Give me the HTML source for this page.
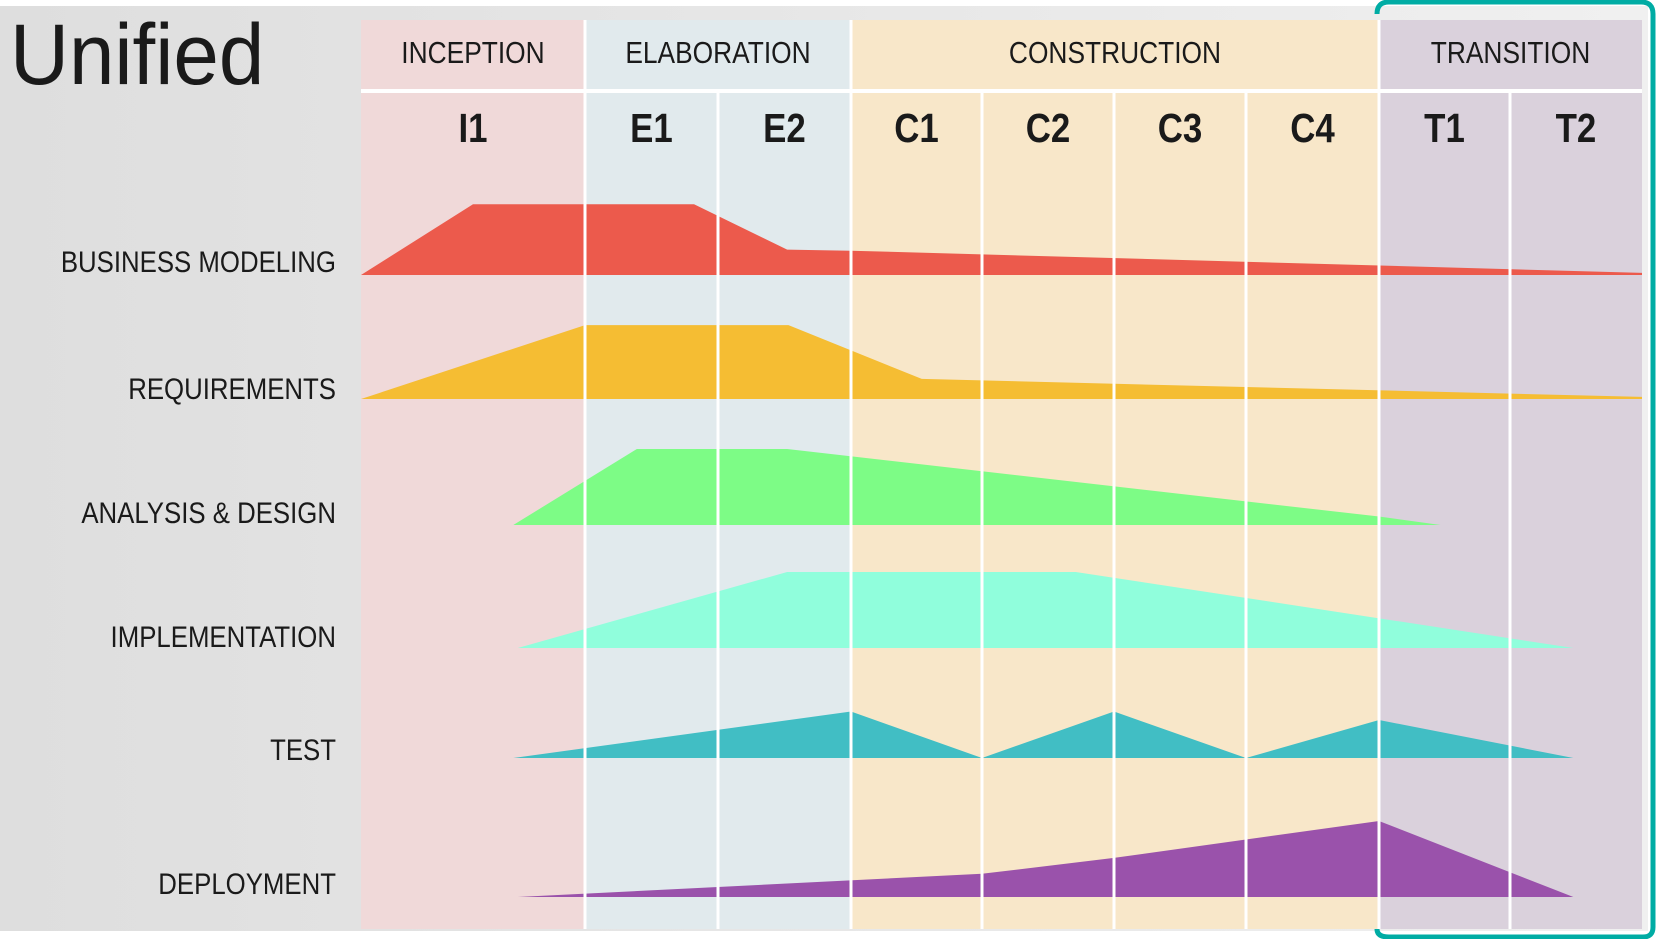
<!DOCTYPE html>
<html><head><meta charset="utf-8"><style>
html,body{margin:0;padding:0;width:1656px;height:939px;overflow:hidden;background:#fff}
svg{display:block}
text{font-family:"Liberation Sans",sans-serif;fill:#1a1a1a}
</style></head><body>
<svg id="chart" width="1656" height="939" viewBox="0 0 1656 939">
<defs>
<linearGradient id="bg" x1="0" y1="0" x2="1" y2="0"><stop offset="0" stop-color="#dedede"/><stop offset="1" stop-color="#f0f0f0"/></linearGradient>
</defs>
<rect x="0" y="0" width="1656" height="939" fill="#ffffff"/>
<rect x="0" y="6" width="1648" height="925" fill="url(#bg)"/>
<g id="panels"></g>
<g id="series"></g>
<g id="grid"></g>
<g id="labels"></g>
<text x="10" y="84" font-size="86" transform="translate(10,0) scale(0.95,1) translate(-10,0)">Unified</text>
<path d="M1377,14 Q1377,2 1389,2 L1641,2 Q1653,2 1653,14 L1653,927 Q1653,937 1643,937 L1389,937 Q1377,937 1377,929" fill="none" stroke="#00aca4" stroke-width="5"/>
</svg>
<script>
const iterations=["I1","E1","E2","C1","C2","C3","C4","T1","T2"];
const phases=["INCEPTION","ELABORATION","CONSTRUCTION","TRANSITION"];
const phaseSpan=[[0,1],[1,3],[3,7],[7,9]];
const phaseColors=["#f0d9d9","#e1eaed","#f8e7c9","#dad1dc"];
const workflows=["BUSINESS MODELING","REQUIREMENTS","ANALYSIS & DESIGN","IMPLEMENTATION","TEST","DEPLOYMENT"];
const colors=["#ec5a4c","#f5bd33","#7dfc86","#90fedc","#41bec4","#9a52ab"];
const bmX=[0,0.5,1.82,2.52,3,9];        const bmV=[0,67,67,24,23,2];
const reqX=[0,1,2.53,3.54,9];            const reqV=[0,70,70,19,2];
const adX=[0.68,1.39,2.52,7,7.47];       const adV=[0,72,72,8,0];
const implX=[0.7,2.52,4.71,8.48];        const implV=[0,72,72,0];
const testX=[0.68,3,4,5,6,7,8.48];       const testV=[0,44,0,44,0,36,0];
const depX=[0.7,4,5,7,8.48];             const depV=[0,22,37,72,0];
const seriesX=[bmX,reqX,adX,implX,testX,depX];
const seriesV=[bmV,reqV,adV,implV,testV,depV];
const NS="http://www.w3.org/2000/svg";
const bounds=[361,585,718,851,982,1114,1246,1379,1510,1642];
const baselines=[275,399,525,648,758,897];
const labelY=[261,388,512,636,749,883];
function xs(u){const i=Math.min(8,Math.max(0,Math.floor(u)));return bounds[i]+(u-i)*(bounds[i+1]-bounds[i]);}
function ys(v,row){return baselines[row]-v*1.056;}
const TOP=20,SEP=91,BOT=929;
const P=document.getElementById('panels'),G=document.getElementById('grid'),S=document.getElementById('series'),L=document.getElementById('labels');
function mk(tag,attrs,parent){const e=document.createElementNS(NS,tag);for(const k in attrs)e.setAttribute(k,attrs[k]);parent.appendChild(e);return e;}
phases.forEach((p,i)=>{
  const x0=xs(phaseSpan[i][0]),x1=xs(phaseSpan[i][1]);
  const r=mk('rect',{x:x0,y:TOP,width:x1-x0,height:BOT-TOP,fill:phaseColors[i]},P);
  
  
  const cx=(x0+x1)/2;
  const t=mk('text',{x:cx,y:63,'font-size':31,'text-anchor':'middle',transform:'translate('+cx+',0) scale(0.85,1) translate('+(-cx)+',0)'},L);
  t.textContent=p;
  
  
});
const hl=mk('rect',{x:361,y:SEP-2,width:1281,height:4,fill:'#ffffff'},G);


bounds.slice(1,9).forEach((b,i)=>{
  const isPhase=[1,3,7].includes(i+1);
  const y0=isPhase?TOP:SEP;
  const ln=mk('rect',{x:b-1.5,y:y0,width:3,height:BOT-y0,fill:'#ffffff'},G);
  
  
});
iterations.forEach((it,i)=>{
  const cx=(bounds[i]+bounds[i+1])/2;
  const t=mk('text',{x:cx,y:142,'font-size':41,'font-weight':'bold','text-anchor':'middle',transform:'translate('+cx+',0) scale(0.85,1) translate('+(-cx)+',0)'},L);
  t.textContent=it;
  
  
});
workflows.forEach((w,r)=>{
  const X=seriesX[r],V=seriesV[r];
  let d='M'+xs(X[0])+','+baselines[r];
  for(let k=0;k<X.length;k++)d+=' L'+xs(X[k])+','+ys(V[k],r);
  d+=' L'+xs(X[X.length-1])+','+baselines[r]+' Z';
  const p=mk('path',{d:d,fill:colors[r]},S);
  
  
  const t=mk('text',{x:336,y:labelY[r]+11,'font-size':30,'text-anchor':'end',transform:'translate(336,0) scale(0.86,1) translate(-336,0)'},L);
  t.textContent=w;
  
  
});
</script>
</body></html>
